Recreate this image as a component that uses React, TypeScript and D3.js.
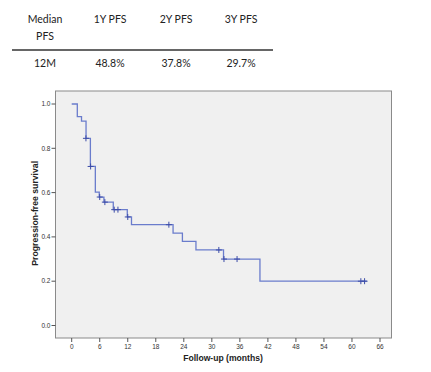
import * as d3 from "d3";

const headers = [["Median", "PFS"], ["1Y PFS"], ["2Y PFS"], ["3Y PFS"]];
const rowValues = ["12M", "48.8%", "37.8%", "29.7%"];

// Kaplan-Meier steps: [months, survival]
const stepTimes = [0, 1.2, 2.1, 3.07, 4.0, 5.06, 5.9, 6.9, 8.9, 11.9, 12.8, 21.7, 23.7, 26.6, 32.5, 40.3, 63.2];
const stepSurv = [1.0, 0.943, 0.923, 0.845, 0.718, 0.602, 0.58, 0.557, 0.523, 0.49, 0.455, 0.417, 0.38, 0.341, 0.3, 0.2, 0.2];

const censorTimes = [3.05, 4.05, 6.0, 7.1, 9.1, 9.9, 12.0, 20.8, 31.5, 32.6, 35.4, 61.9, 62.7];
const censorSurv = [0.845, 0.718, 0.58, 0.557, 0.523, 0.523, 0.49, 0.455, 0.341, 0.3, 0.3, 0.2, 0.2];

const xTicks = [0, 6, 12, 18, 24, 30, 36, 42, 48, 54, 60, 66];
const yTicks = [0, 0.2, 0.4, 0.6, 0.8, 1.0];

const App = () => {
  const width = 431;
  const height = 372;

  const frame = { left: 55.5, top: 91, right: 391.5, bottom: 338 };

  const x = d3.scaleLinear().domain([0, 66]).range([71.7, 380]);
  const y = d3.scaleLinear().domain([0, 1]).range([325.5, 104]);

  const steps = stepTimes.map((t, i) => [t, stepSurv[i]] as [number, number]);
  const line = d3
    .line<[number, number]>()
    .x((d) => x(d[0]))
    .y((d) => y(d[1]))
    .curve(d3.curveStepAfter);

  const colX = [45, 110, 176, 241];
  const tableFont = "Lato, 'Open Sans', sans-serif";

  return (
    <svg
      width={width}
      height={height}
      style={{ position: "absolute", left: 0, top: 0 }}
      fontFamily="Liberation Sans, Arial, sans-serif"
    >
      <rect width={width} height={height} fill="#fff" />
      {/* table */}
      <g fontFamily={tableFont} fontSize={10.5} fill="#222" textAnchor="middle">
        {headers.map((h, i) =>
          h.map((txt, j) => (
            <text key={`${i}-${j}`} x={colX[i]} y={23 + j * 17}>
              {txt}
            </text>
          )),
        )}
        <line x1={12} x2={273} y1={50} y2={50} stroke="#333" strokeWidth={1.5} />
        {rowValues.map((v, i) => (
          <text key={v} x={colX[i]} y={67}>
            {v}
          </text>
        ))}
      </g>

      {/* plot frame */}
      <rect
        x={frame.left}
        y={frame.top}
        width={frame.right - frame.left}
        height={frame.bottom - frame.top}
        fill="#f0f0f0"
        stroke="#8a8a8a"
        strokeWidth={1}
      />

      {/* y axis */}
      <g fontSize={6.5} fill="#333">
        {yTicks.map((t) => (
          <g key={t}>
            <line x1={frame.left - 4} x2={frame.left} y1={y(t)} y2={y(t)} stroke="#555" />
            <text x={frame.left - 5} y={y(t)} dy="0.35em" textAnchor="end">
              {t.toFixed(1)}
            </text>
          </g>
        ))}
      </g>
      {/* x axis */}
      <g fontSize={6.5} fill="#333">
        {xTicks.map((t) => (
          <g key={t}>
            <line x1={x(t)} x2={x(t)} y1={frame.bottom} y2={frame.bottom + 4} stroke="#555" />
            <text x={x(t)} y={frame.bottom + 10.5} textAnchor="middle">
              {t}
            </text>
          </g>
        ))}
      </g>
      <text x={223} y={361} textAnchor="middle" fontSize={8.6} fontWeight="bold" fill="#222">
        Follow-up (months)
      </text>
      <text
        transform={`translate(38,213.3) rotate(-90)`}
        textAnchor="middle"
        fontSize={8.7}
        fontWeight="bold"
        fill="#222"
      >
        Progression-free survival
      </text>

      {/* survival curve */}
      <path d={line(steps) ?? ""} fill="none" stroke="#6a7ccc" strokeWidth={1.3} />
      <g stroke="#3c4ca8" strokeWidth={1}>
        {censorTimes.map((t, i) => (
          <g key={i}>
            <line x1={x(t) - 3} x2={x(t) + 3} y1={y(censorSurv[i])} y2={y(censorSurv[i])} />
            <line x1={x(t)} x2={x(t)} y1={y(censorSurv[i]) - 3} y2={y(censorSurv[i]) + 3} />
          </g>
        ))}
      </g>
    </svg>
  );
};

export default App;
